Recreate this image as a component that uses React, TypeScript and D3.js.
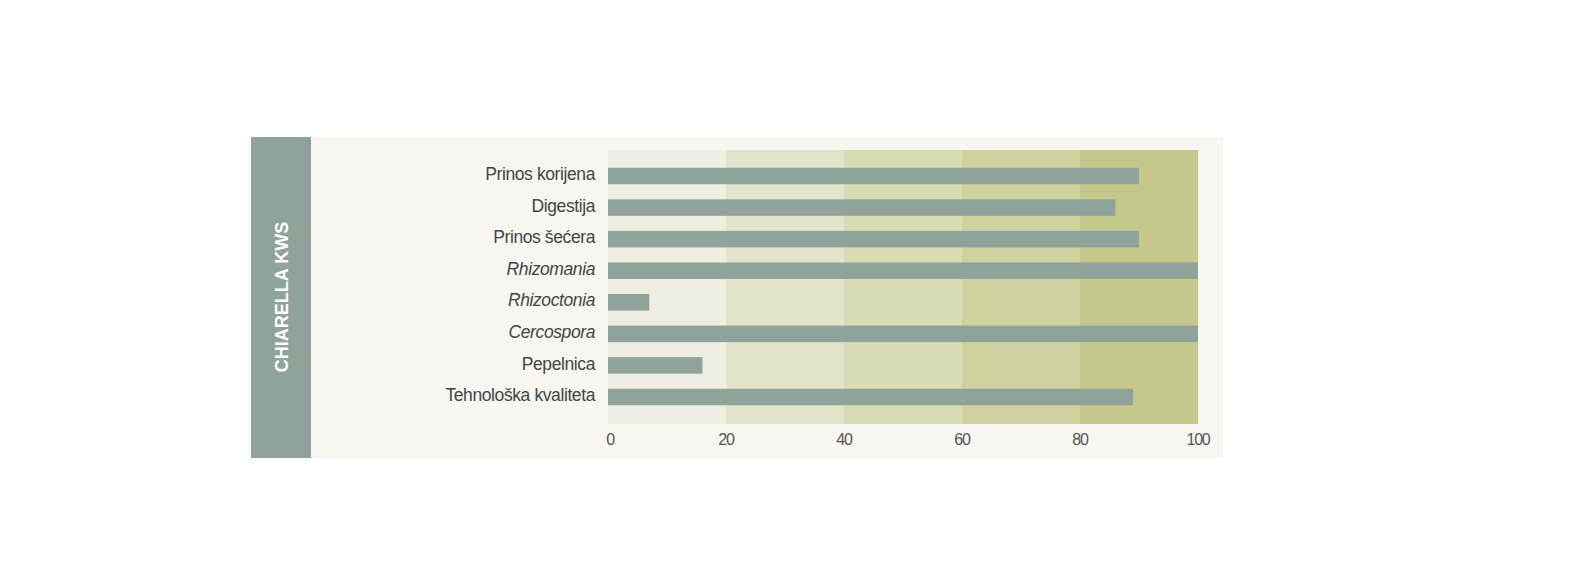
import React from "react";
import * as d3 from "d3";

const categories = [
  "Prinos korijena",
  "Digestija",
  "Prinos šećera",
  "Rhizomania",
  "Rhizoctonia",
  "Cercospora",
  "Pepelnica",
  "Tehnološka kvaliteta",
];
const italicCats = ["Rhizomania", "Rhizoctonia", "Cercospora"];
const values = [90, 86, 90, 100, 7, 100, 16, 89];
const ticks = [0, 20, 40, 60, 80, 100];
const bandColors = ["#efefe1", "#e4e4ca", "#d9dbb3", "#cfd29f", "#c6c78b"];
const title = "CHIARELLA KWS";

export default function App() {
  const W = 1571;
  const H = 569;
  const x = d3.scaleLinear().domain([0, 100]).range([608, 1198]);
  const y = d3.scalePoint<string>().domain(categories).range([176, 397]);
  const barH = 16.5;
  const font = "'Liberation Sans', Arial, sans-serif";

  return (
    <svg
      width={W}
      height={H}
      style={{ position: "absolute", left: 0, top: 0, background: "#fff" }}
    >
      <rect x={311} y={137} width={912} height={321} fill="#f7f6f0" />
      <rect x={251} y={137} width={60} height={321} fill="#8fa39a" />
      <text
        transform={`translate(288,297) rotate(-90)`}
        textAnchor="middle"
        fill="#fff"
        fontFamily={font}
        fontWeight="bold"
        fontSize={18}
      >
        {title}
      </text>
      {ticks.slice(0, -1).map((t, i) => (
        <rect
          key={t}
          x={x(t)}
          y={150}
          width={x(ticks[i + 1]) - x(t)}
          height={274}
          fill={bandColors[i]}
        />
      ))}
      {categories.map((c, i) => (
        <rect
          key={c}
          x={x(0)}
          y={(y(c) as number) - barH / 2}
          width={x(values[i]) - x(0)}
          height={barH}
          fill="#8fa39a"
        />
      ))}
      {categories.map((c) => (
        <text
          key={c}
          x={595}
          y={(y(c) as number) - 2}
          dy="0.35em"
          textAnchor="end"
          fontFamily={font}
          fontSize={17.5}
          letterSpacing={-0.4}
          fontStyle={italicCats.includes(c) ? "italic" : "normal"}
          fill="#454545"
        >
          {c}
        </text>
      ))}
      {ticks.map((t) => (
        <text
          key={t}
          x={x(t) + (t === 0 ? 2 : 0)}
          y={445}
          textAnchor="middle"
          fontFamily={font}
          fontSize={16}
          letterSpacing={-1.2}
          fill="#555"
        >
          {t}
        </text>
      ))}
    </svg>
  );
}
